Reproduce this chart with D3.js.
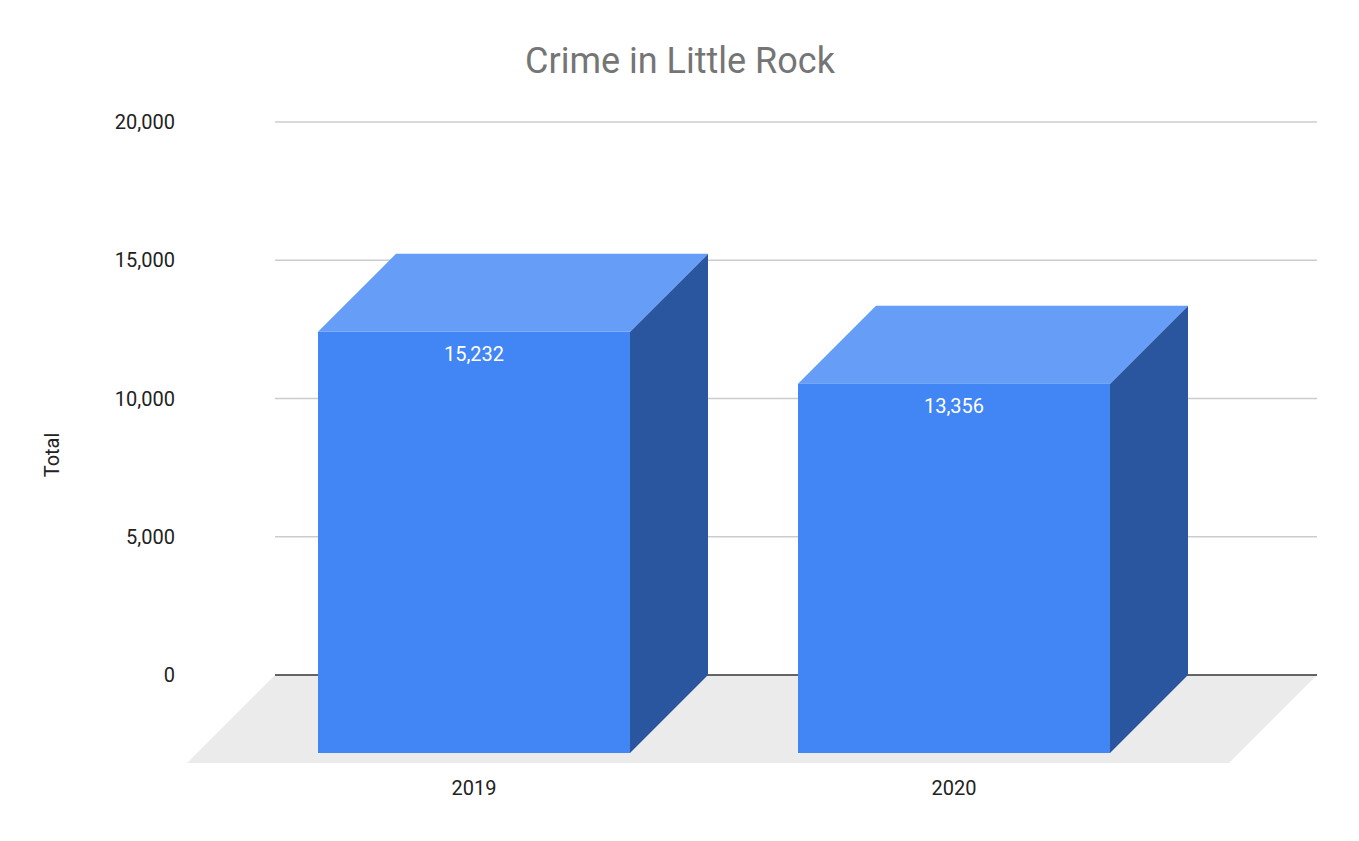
<!DOCTYPE html>
<html><head><meta charset="utf-8">
<script src="https://cdn.jsdelivr.net/npm/d3@7"></script>
<style>body{margin:0;background:#fff}text{font-family:Roboto,Arial,sans-serif}</style>
</head><body><svg id="c" width="1359" height="841"></svg>
<script>
var years = ["2019", "2020"];
var totals = [15232, 13356];
var yTicks = [0, 5000, 10000, 15000, 20000];

var svg = d3.select("#c");
var dx = 78, dy = 78; // depth of the 3D bars
var y = d3.scaleLinear().domain([0, 20000]).range([675, 122]);
var x = d3.scaleBand().domain(years).range([234, 1194]).paddingInner(0.35).paddingOuter(0.175);
var fmt = d3.format(",");

svg.append("text").attr("x", 680).attr("y", 73).attr("text-anchor", "middle")
  .attr("font-size", 36).attr("fill", "#757575").text("Crime in Little Rock");

// floor
svg.append("polygon").attr("points", "275,675 1317,675 1229,763 187,763").attr("fill", "#ebebeb");

svg.selectAll(".grid").data(yTicks.filter(function(d){ return d > 0; })).enter().append("line")
  .attr("x1", 275).attr("x2", 1317).attr("y1", function(d){ return y(d); }).attr("y2", function(d){ return y(d); })
  .attr("stroke", "#cccccc").attr("stroke-width", 1.5);
svg.append("line").attr("x1", 275).attr("x2", 1317).attr("y1", y(0)).attr("y2", y(0))
  .attr("stroke", "#333").attr("stroke-width", 1.5);

svg.selectAll(".yl").data(yTicks).enter().append("text")
  .attr("x", 175).attr("y", function(d){ return y(d) + 7; }).attr("text-anchor", "end")
  .attr("font-size", 20).attr("fill", "#222").text(fmt);

svg.append("text").attr("transform", "translate(59,455) rotate(-90)").attr("text-anchor", "middle")
  .attr("font-size", 20).attr("fill", "#222").text("Total");

var bars = svg.selectAll(".bar").data(years.map(function(d, i){ return {k: d, v: totals[i]}; }))
  .enter().append("g");
bars.each(function(d) {
  var g = d3.select(this);
  var x0 = x(d.k), w = x.bandwidth();
  var top = y(d.v) + dy, bot = y(0) + dy;
  g.append("polygon").attr("fill", "#2a56a0")
    .attr("points", [[x0 + w, top], [x0 + w + dx, top - dy], [x0 + w + dx, bot - dy], [x0 + w, bot]].join(" "));
  g.append("polygon").attr("fill", "#669df6")
    .attr("points", [[x0, top], [x0 + dx, top - dy], [x0 + w + dx, top - dy], [x0 + w, top]].join(" "));
  g.append("rect").attr("x", x0).attr("y", top).attr("width", w).attr("height", bot - top).attr("fill", "#4285f4");
  g.append("text").attr("x", x0 + w / 2).attr("y", top + 29).attr("text-anchor", "middle")
    .attr("font-size", 20).attr("fill", "#fff").text(fmt(d.v));
  g.append("text").attr("x", x0 + w / 2).attr("y", 795).attr("text-anchor", "middle")
    .attr("font-size", 20).attr("fill", "#222").text(d.k);
});
</script></body></html>
